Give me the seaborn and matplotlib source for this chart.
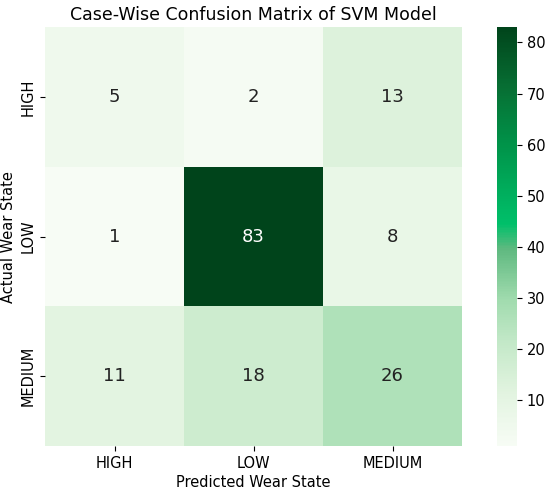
import numpy as np
import pandas as pd
import seaborn as sns
import matplotlib
matplotlib.use("Agg")
import matplotlib.pyplot as plt
from matplotlib.colors import LinearSegmentedColormap

labels = ["HIGH", "LOW", "MEDIUM"]
row_high = [5, 2, 13]
row_low = [1, 83, 8]
row_medium = [11, 18, 26]

cm = pd.DataFrame([row_high, row_low, row_medium], index=labels, columns=labels)

cmap = LinearSegmentedColormap.from_list("g", [
    (0.0, "#f7fcf5"),
    (0.12, "#e3f4e1"),
    (0.25, "#c2e8c7"),
    (0.35, "#a0dbae"),
    (0.47, "#5fb980"),
    (0.53, "#00c06a"),
    (0.72, "#009349"),
    (0.86, "#076e33"),
    (1.0, "#00441b"),
])

fig = plt.figure(figsize=(5.5, 4.93), dpi=100)
ax = fig.add_axes([0.082, 0.095, 0.758, 0.85])
cax = fig.add_axes([0.903, 0.095, 0.037, 0.85])
sns.heatmap(cm, annot=True, fmt="d", cmap=cmap, ax=ax, cbar_ax=cax,
            annot_kws={"size": 13, "color": "#222222"})
for t, v in zip(ax.texts, cm.values.flatten()):
    if v > 60:
        t.set_color("white")
ax.set_title("Case-Wise Confusion Matrix of SVM Model", fontsize=12.5, pad=5)
ax.set_xlabel("Predicted Wear State", fontsize=10.5, labelpad=3)
ax.set_ylabel("Actual Wear State", fontsize=10.5, labelpad=3)
ax.tick_params(labelsize=10.5)
ax.set_yticklabels(labels, rotation=90, va="center")
cax.tick_params(labelsize=10.5)
fig.savefig("out.png", dpi=100)
